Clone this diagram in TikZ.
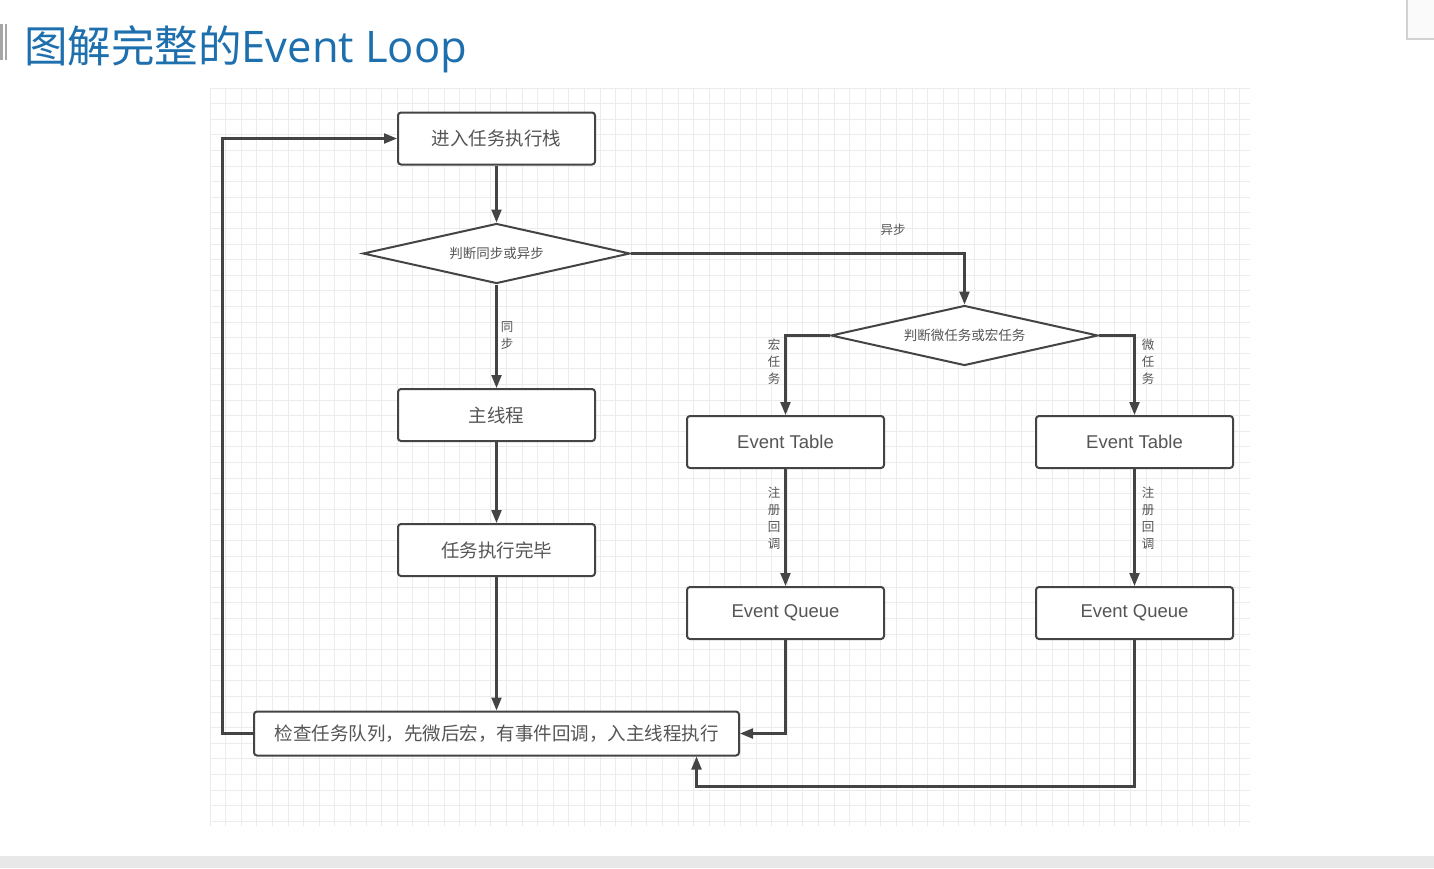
\documentclass[tikz,border=0pt]{standalone}
\usepackage{fontspec}
\setmainfont{Noto Sans CJK SC}
\newfontfamily\latinfont{Liberation Sans}
\newfontfamily\titlelatin{Open Sans}
\usetikzlibrary{arrows.meta,shapes.geometric,positioning}
\definecolor{titleblue}{HTML}{1E6FAE}
\definecolor{linegray}{HTML}{444444}
\definecolor{textgray}{HTML}{555555}
\definecolor{gridgray}{HTML}{ECECEC}
\definecolor{barfill}{HTML}{E8E8E8}
\tikzset{
  flowbox/.style={draw=linegray, line width=2pt, rounded corners=3pt, fill=white,
    minimum width=197pt, minimum height=52pt, inner sep=0pt, text=textgray,
    font=\fontsize{18.5}{20}\selectfont},
  decision/.style={draw=linegray, line width=2pt, diamond, aspect=4.5, fill=white,
    minimum width=267pt, minimum height=60pt, inner sep=0pt, text=textgray,
    font=\fontsize{13.5}{14}\selectfont},
  conn/.style={draw=linegray, line width=2.2pt, -{Triangle[length=13pt,width=10pt]}},
  vlabel/.style={text=textgray, font=\fontsize{12.5}{17}\selectfont, align=center, inner sep=1pt},
}
\begin{document}
\begin{tikzpicture}[x=1pt,y=-1pt]
\useasboundingbox (0,0) rectangle (1434,868);
\fill[white] (0,0) rectangle (1434,868);
% grid
\foreach \i in {0,...,66} {
  \draw[gridgray, line width=0.9pt] ({210+15.6*\i},88) -- ({210+15.6*\i},826);
}
\foreach \j in {0,...,47} {
  \draw[gridgray, line width=0.9pt] (210,{88+15.6*\j}) -- (1250,{88+15.6*\j});
}
% window chrome
\fill[gray!70] (0,24) rectangle (2.5,60);
\fill[gray!70] (4.5,24) rectangle (7,60);
\draw[gray!35, line width=1.5pt, fill=gray!4] (1407,-5) rectangle (1440,39);
\fill[gray!18] (0,856) rectangle (1434,858.5);
\fill[barfill] (0,858.5) rectangle (1434,868);
% title
\node[anchor=base west, text=titleblue, inner sep=0pt, font=\fontsize{43.5}{45}\selectfont] (title) at (24,62) {图解完整的{\titlelatin Event Loop}};
% nodes
\node[flowbox] (enter) at (496.5,138.5) {进入任务执行栈};
\node[decision] (d1) at (496.5,253.5) {判断同步或异步};
\node[flowbox] (main) at (496.5,415) {主线程};
\node[flowbox] (done) at (496.5,550) {任务执行完毕};
\node[flowbox, minimum width=485pt, minimum height=44pt] (check) at (496.5,733.5) {检查任务队列，先微后宏，有事件回调，入主线程执行};
\node[decision] (d2) at (964.5,335.5) {判断微任务或宏任务};
\node[flowbox] (etl) at (785.5,442) {\latinfont Event Table};
\node[flowbox] (etr) at (1134.5,442) {\latinfont Event Table};
\node[flowbox] (eql) at (785.5,613) {\latinfont Event Queue};
\node[flowbox] (eqr) at (1134.5,613) {\latinfont Event Queue};
\coordinate (c1) at (964.5,253.5);
\coordinate (c2) at (785.5,335.5);
\coordinate (c3) at (1134.5,335.5);
\coordinate (c4) at (785.5,733.5);
\coordinate (c5) at (1134.5,786.5);
\coordinate (c6) at (696.5,786.5);
\coordinate (c7) at (222.5,733.5);
\coordinate (c8) at (222.5,138.5);
% connectors
\draw[conn] (enter) -- (d1);
\draw[conn] (d1.east) -- (c1) -- (d2.north);
\draw[conn] (d1) -- (main);
\draw[conn] (main) -- (done);
\draw[conn] (done) -- (check);
\draw[conn] (d2.west) -- (c2) -- (etl.north);
\draw[conn] (d2.east) -- (c3) -- (etr.north);
\draw[conn] (etl) -- (eql);
\draw[conn] (etr) -- (eqr);
\draw[conn] (eql.south) -- (c4) -- (check.east);
\draw[conn] (eqr.south) -- (c5) -- (c6) -- (c6 |- check.south);
\draw[conn] (check.west) -- (c7) -- (c8) -- (enter.west);
% labels
\node[vlabel] (lyb) at (893,230) {异步};
\node[vlabel] (ltb) at (507,336) {同\\步};
\node[vlabel] (lhong) at (774,362) {宏\\任\\务};
\node[vlabel] (lwei) at (1148,362) {微\\任\\务};
\node[vlabel] (lreg1) at (774,518) {注\\册\\回\\调};
\node[vlabel] (lreg2) at (1148,518) {注\\册\\回\\调};
\end{tikzpicture}
\end{document}
